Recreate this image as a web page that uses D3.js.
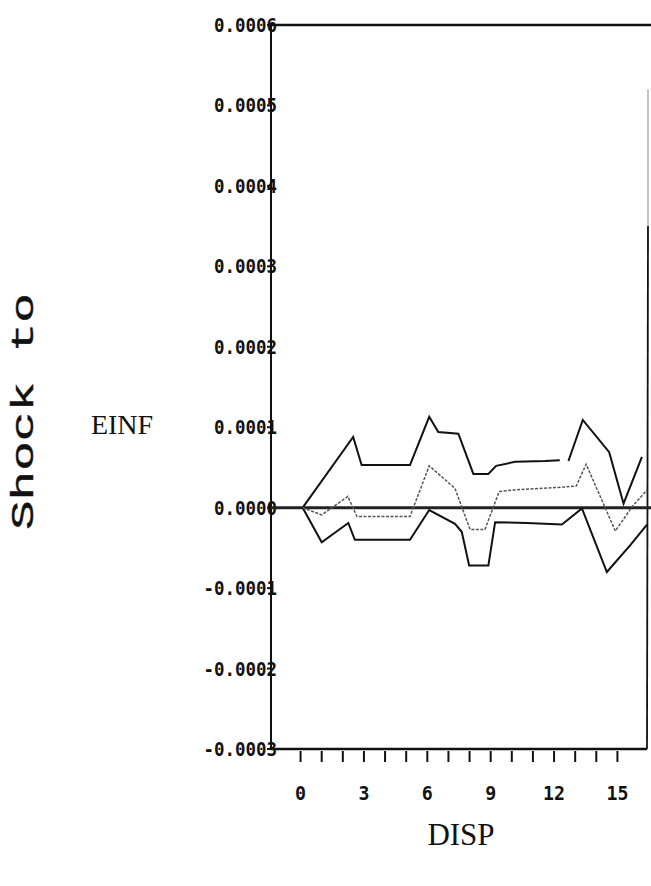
<!DOCTYPE html>
<html>
<head>
<meta charset="utf-8">
<script src="https://cdn.jsdelivr.net/npm/d3@7"></script>
<style>
  html, body { margin: 0; padding: 0; background: #fff; }
  svg { display: block; }
  .ytick { font-family: "DejaVu Sans Mono", monospace; font-weight: bold; font-size: 20px; fill: #111; }
  .xtick { font-family: "DejaVu Sans Mono", monospace; font-weight: bold; font-size: 20px; fill: #111; }
</style>
</head>
<body>
<svg id="chart" width="651" height="886"></svg>
<script>
const svg = d3.select("#chart");

// periods (x) and responses (y)
const upperX = [0.1, 2.49, 2.89, 5.18, 6.09, 6.52, 7.47, 8.18, 8.89, 9.26, 10.16, 11.58, 12.27, null, 12.68, 13.36, 14.61, 15.29, 16.16];
const upperY = [0, 0.000088, 0.000053, 0.000053, 0.000113, 0.000094, 0.000092, 0.000042, 0.000042, 0.000052, 0.000057, 0.000058, 0.000059, null, 0.000058, 0.000109, 0.000069, 0.000005, 0.000063];

const midX = [0.1, 1.0, 2.24, 2.67, 5.18, 6.09, 7.31, 8.02, 8.73, 9.4, 10.1, 12.13, 13.05, 13.52, 14.9, 15.72, 16.4];
const midY = [0, -0.000009, 0.000014, -0.000011, -0.000011, 0.000052, 0.000024, -0.000027, -0.000027, 0.00002, 0.000022, 0.000025, 0.000027, 0.000054, -0.000029, 0.000002, 0.000022];

const lowerX = [0.1, 1.0, 2.26, 2.57, 5.18, 6.09, 7.31, 7.63, 7.98, 8.89, 9.21, 10.71, 12.37, 13.32, 14.5, 15.6, 16.4];
const lowerY = [0, -0.000043, -0.000019, -0.00004, -0.00004, -0.000003, -0.00002, -0.00003, -0.000072, -0.000072, -0.000018, -0.000019, -0.000021, -0.000001, -0.00008, -0.000047, -0.000021];

const yTicks = [0.0006, 0.0005, 0.0004, 0.0003, 0.0002, 0.0001, 0, -0.0001, -0.0002, -0.0003];
const yTickLabels = ["0.0006", "0.0005", "0.0004", "0.0003", "0.0002", "0.0001", "0.0000", "-0.0001", "-0.0002", "-0.0003"];
const xTicks = d3.range(0, 16);
const xTickLabels = [0, 3, 6, 9, 12, 15];

const x = d3.scaleLinear().domain([-1.4, 16.4]).range([271, 647]);
const y = d3.scaleLinear().domain([-0.0003, 0.0006]).range([749, 25]);

const toPts = (xs, ys) => xs.map((v, i) => (v === null ? null : [v, ys[i]]));

const line = d3.line()
  .defined((d) => d !== null)
  .x((d) => x(d[0]))
  .y((d) => y(d[1]));

// frame
const [x0, x1] = x.range();
const [yb, yt] = y.range();
svg.append("line").attr("x1", x0).attr("x2", 651).attr("y1", yt).attr("y2", yt)
  .attr("stroke", "#111").attr("stroke-width", 2.5);
svg.append("line").attr("x1", x0).attr("x2", x0).attr("y1", yt).attr("y2", yb + 1)
  .attr("stroke", "#111").attr("stroke-width", 2);
svg.append("line").attr("x1", x0).attr("x2", x1).attr("y1", yb).attr("y2", yb)
  .attr("stroke", "#111").attr("stroke-width", 2.5);
svg.append("line").attr("x1", x1 + 1).attr("x2", x1 + 1).attr("y1", y(0.00052)).attr("y2", y(0.00035))
  .attr("stroke", "#999").attr("stroke-width", 1.2);
svg.append("line").attr("x1", x1 + 1).attr("x2", x1).attr("y1", y(0.00035)).attr("y2", yb)
  .attr("stroke", "#111").attr("stroke-width", 1.8);

// y ticks + labels
svg.selectAll("line.yt").data(yTicks).join("line").attr("class", "yt")
  .attr("x1", x0 - 4).attr("x2", x0).attr("y1", (d) => y(d)).attr("y2", (d) => y(d))
  .attr("stroke", "#111").attr("stroke-width", 2);
svg.selectAll("text.ytick").data(yTicks).join("text").attr("class", "ytick")
  .attr("x", x0 + 6).attr("y", (d) => y(d))
  .attr("text-anchor", "end").attr("dominant-baseline", "central")
  .attr("textLength", (d, i) => yTickLabels[i].length * 10.5)
  .attr("lengthAdjust", "spacingAndGlyphs")
  .text((d, i) => yTickLabels[i]);

// x ticks + labels
svg.selectAll("line.xt").data(xTicks).join("line").attr("class", "xt")
  .attr("x1", (d) => x(d)).attr("x2", (d) => x(d)).attr("y1", yb + 2).attr("y2", yb + 13)
  .attr("stroke", "#111").attr("stroke-width", 2);
svg.selectAll("text.xtick").data(xTickLabels).join("text").attr("class", "xtick")
  .attr("x", (d) => x(d)).attr("y", 793)
  .attr("text-anchor", "middle").attr("dominant-baseline", "central")
  .attr("textLength", (d) => String(d).length * 11)
  .attr("lengthAdjust", "spacingAndGlyphs")
  .text((d) => d);

// zero line
svg.append("line").attr("x1", x0).attr("x2", 651).attr("y1", y(0)).attr("y2", y(0))
  .attr("stroke", "#222").attr("stroke-width", 3);

// response lines
svg.append("path").attr("d", line(toPts(upperX, upperY)))
  .attr("fill", "none").attr("stroke", "#111").attr("stroke-width", 2);
svg.append("path").attr("d", line(toPts(lowerX, lowerY)))
  .attr("fill", "none").attr("stroke", "#111").attr("stroke-width", 2);
svg.append("path").attr("d", line(toPts(midX, midY)))
  .attr("fill", "none").attr("stroke", "#555").attr("stroke-width", 1.5)
  .attr("stroke-dasharray", "3,1.5");

// titles
svg.append("text")
  .attr("transform", "translate(33,530) rotate(-90)")
  .attr("text-anchor", "start")
  .attr("textLength", 237)
  .attr("lengthAdjust", "spacingAndGlyphs")
  .style("font-family", "'Liberation Mono', monospace")
  .style("font-size", "31px")
  .attr("fill", "#111")
  .attr("stroke", "#111")
  .attr("stroke-width", 0.4)
  .text("Shock to");

svg.append("text")
  .attr("x", 122).attr("y", 434)
  .attr("text-anchor", "middle")
  .style("font-family", "'Liberation Serif', serif")
  .style("font-size", "28px")
  .attr("fill", "#111")
  .text("EINF");

svg.append("text")
  .attr("x", 461).attr("y", 845)
  .attr("text-anchor", "middle")
  .style("font-family", "'Liberation Serif', serif")
  .style("font-size", "31px")
  .attr("fill", "#111")
  .text("DISP");
</script>
</body>
</html>
